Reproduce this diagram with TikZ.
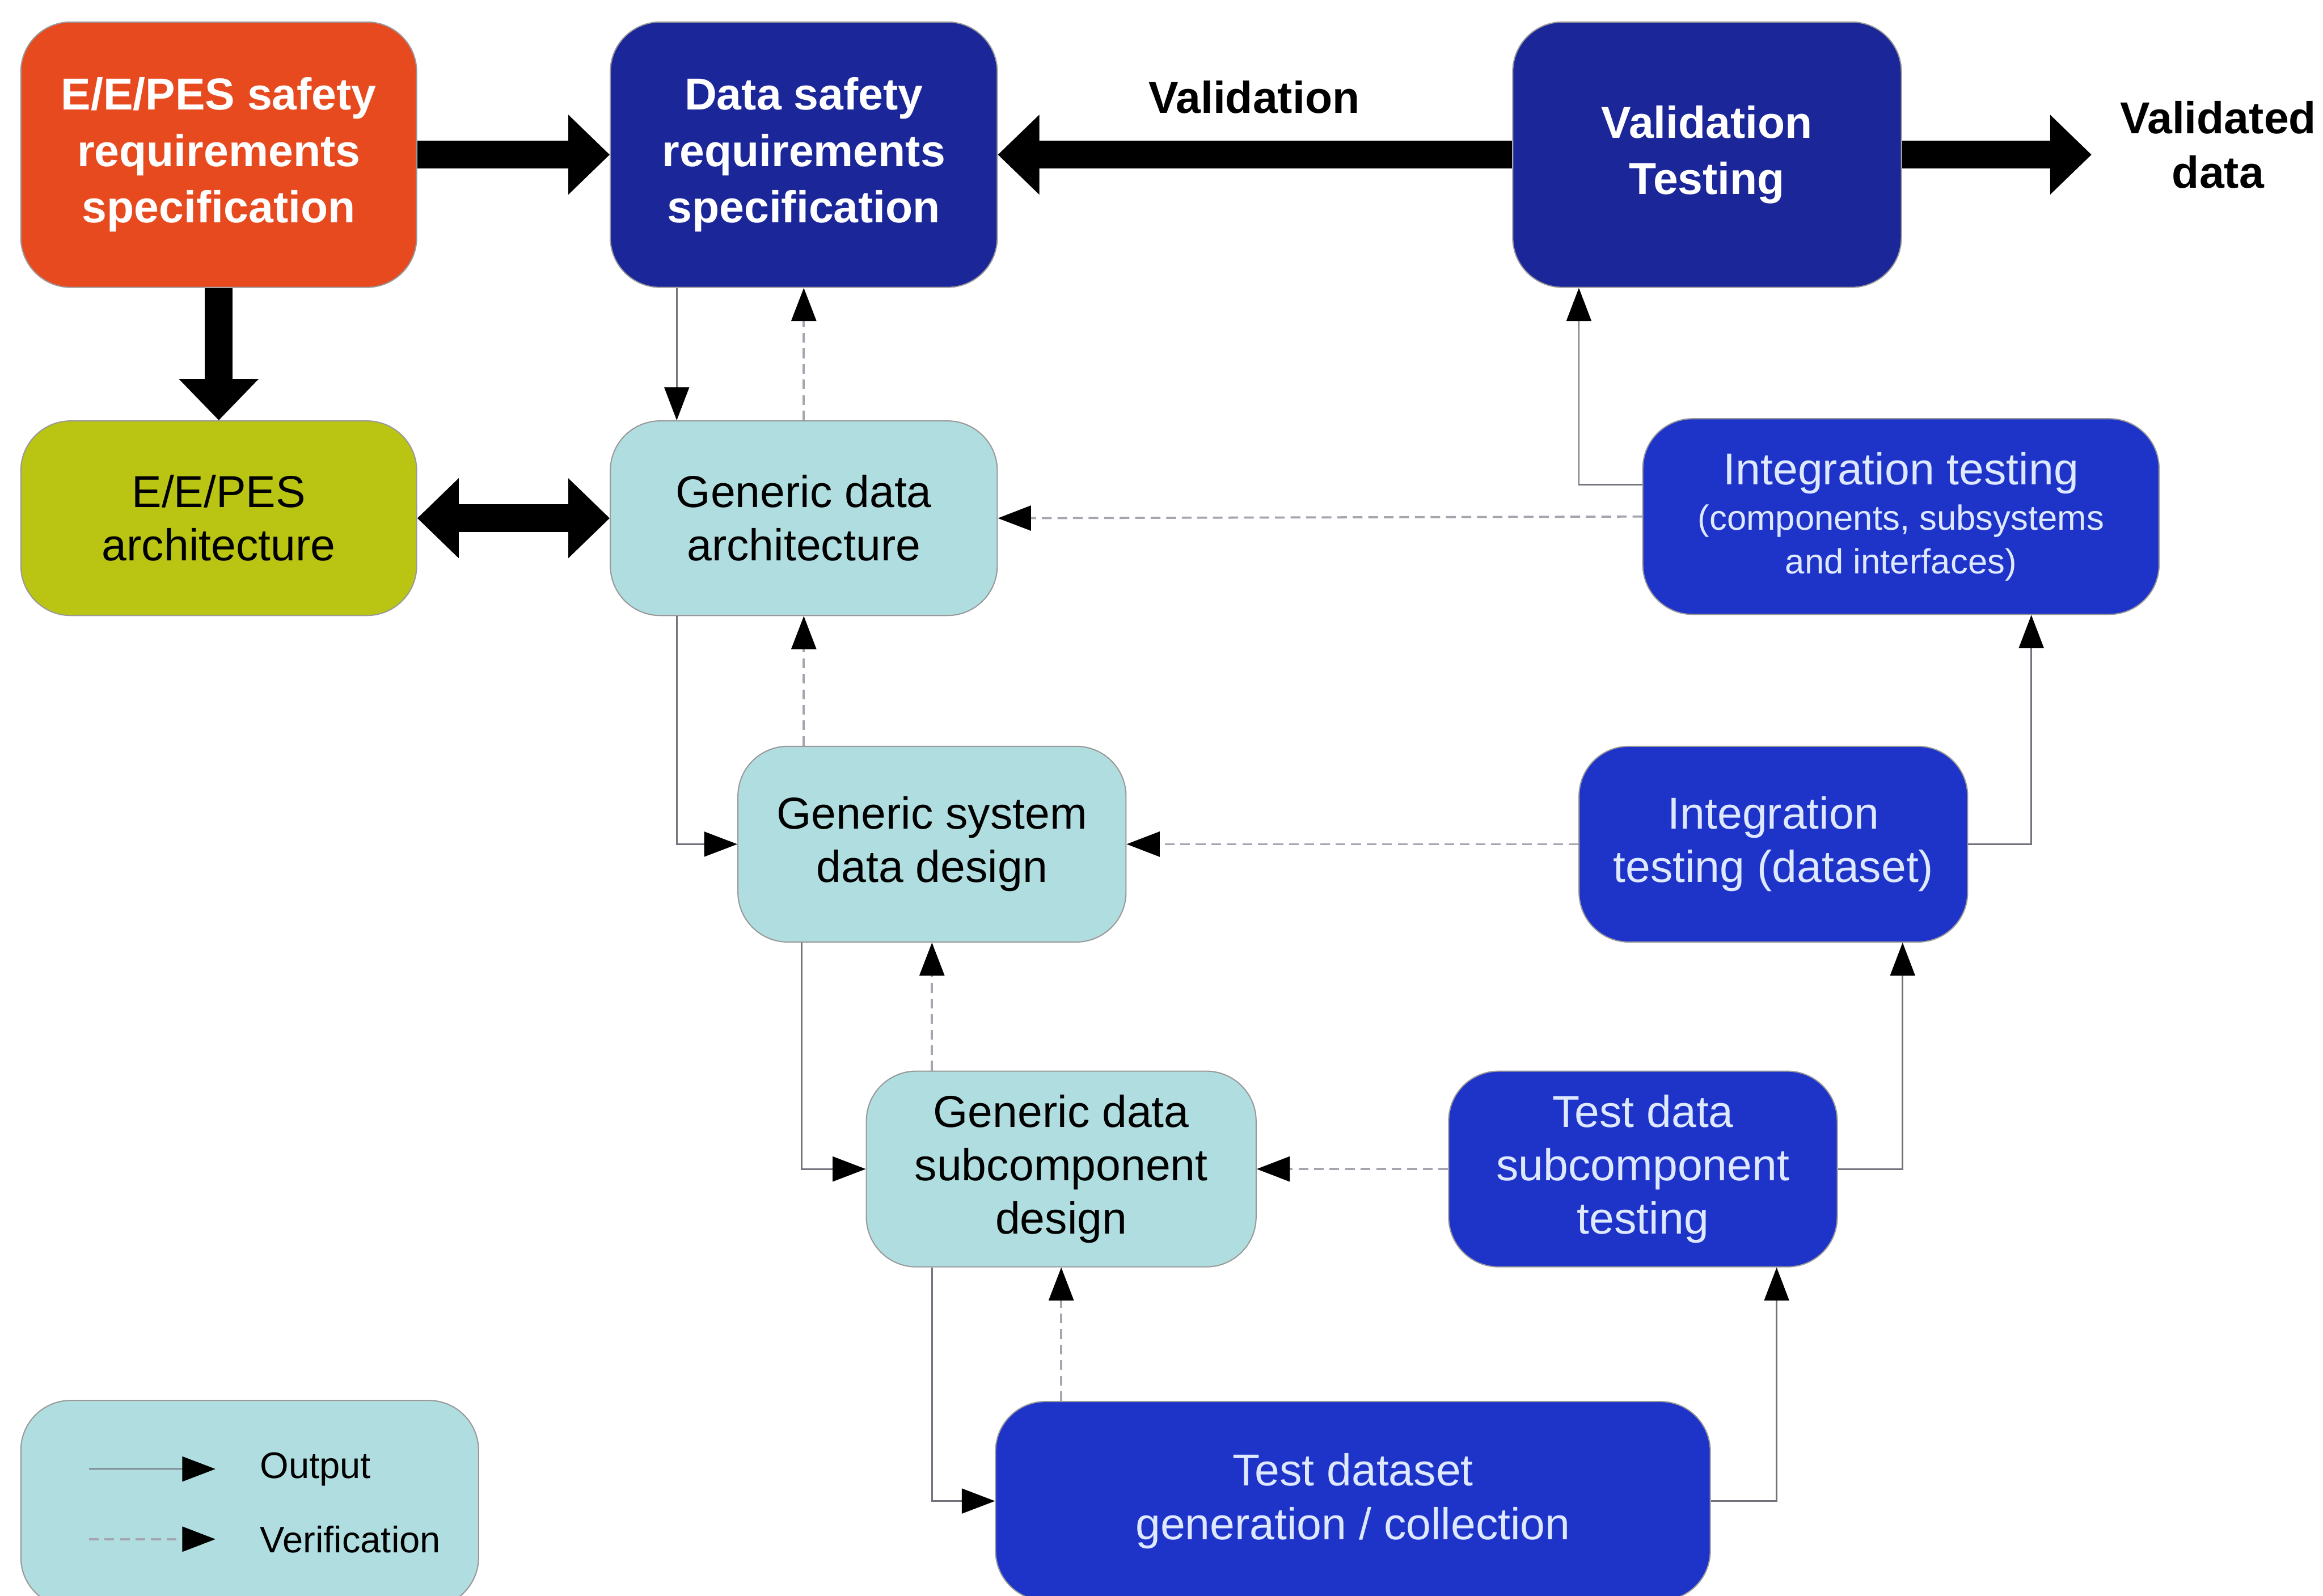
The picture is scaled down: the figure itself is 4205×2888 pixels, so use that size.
\documentclass[tikz,border=0pt]{standalone}
\usepackage{fontspec}
\setmainfont{Liberation Sans}
\usetikzlibrary{arrows.meta,calc}

\definecolor{reqred}{RGB}{232,74,32}
\definecolor{archgreen}{RGB}{186,196,18}
\definecolor{deepblue}{RGB}{27,38,152}
\definecolor{testblue}{RGB}{30,52,200}
\definecolor{datacyan}{RGB}{176,222,224}
\definecolor{testtext}{RGB}{222,232,255}
\definecolor{solidgray}{RGB}{115,115,125}
\definecolor{dashgray}{RGB}{165,165,175}

\newcommand\smallnote{\fontsize{18}{22.5}\selectfont}

\begin{document}
\begin{tikzpicture}[x=0.01cm,y=-0.01cm,
  box/.style={rounded corners=0.9cm, draw=black!40, line width=0.6pt,
              align=center, inner sep=0pt},
  boldtxt/.style={font=\fontsize{23}{29}\selectfont\bfseries},
  plaintxt/.style={font=\fontsize{23}{27.5}\selectfont},
  reqbox/.style={box, boldtxt, text=white, minimum height=4.8cm},
  designbox/.style={box, plaintxt, fill=datacyan, text=black, minimum height=3.54cm},
  testbox/.style={box, plaintxt, fill=testblue, text=testtext, minimum height=3.54cm},
  bigarrow/.style={draw=black, line width=0.5cm, -{Triangle[length=0.75cm,width=1.4cm]}},
  bigboth/.style={draw=black, line width=0.5cm,
                  {Triangle[length=0.75cm,width=1.4cm]}-{Triangle[length=0.75cm,width=1.4cm]}},
  outarrow/.style={draw=solidgray, line width=0.8pt,
                   -{Triangle[length=0.6cm,width=0.45cm,color=black]}},
  verarrow/.style={draw=dashgray, line width=1.1pt, dash pattern=on 5pt off 3pt,
                   -{Triangle[length=0.6cm,width=0.45cm,color=black]}},
]
\useasboundingbox (0,0) rectangle (4205,2888);
\clip (0,0) rectangle (4205,2888);
\fill[white] (0,0) rectangle (4205,2888);

% ---- top row: requirements and validation ----
\node[reqbox, fill=reqred, minimum width=7.16cm] (A) at (396,280)
  {E/E/PES safety\\requirements\\specification};
\node[reqbox, fill=deepblue, minimum width=7.0cm] (B) at (1455,280)
  {Data safety\\requirements\\specification};
\node[reqbox, fill=deepblue, minimum width=7.03cm] (C) at (3090,280)
  {Validation\\Testing};
\node[boldtxt, align=center, inner sep=0pt] (lab) at (2270,176) {Validation};
\node[font=\fontsize{23}{28}\selectfont\bfseries, align=center, inner sep=0pt]
  (vd) at (4015,262) {Validated\\data};
\coordinate (vtip) at (3786,280);

% ---- design side ----
\node[box, plaintxt, fill=archgreen, minimum width=7.16cm, minimum height=3.52cm]
  (D) at (396,938) {E/E/PES\\architecture};
\node[designbox, minimum width=7.0cm, minimum height=3.52cm] (E) at (1455,938)
  {Generic data\\architecture};
\node[designbox, minimum width=7.02cm] (G) at (1687,1528)
  {Generic system\\data design};
\node[designbox, minimum width=7.05cm] (I) at (1921,2116)
  {Generic data\\subcomponent\\design};

% ---- testing side ----
\node[testbox, minimum width=9.34cm] (F) at (3441,935)
  {Integration testing\\[-4pt]\smallnote (components, subsystems\\[-5pt]\smallnote and interfaces)};
\node[testbox, minimum width=7.03cm] (H) at (3210,1528)
  {Integration\\testing (dataset)};
\node[testbox, minimum width=7.03cm] (J) at (2974,2116)
  {Test data\\subcomponent\\testing};
\node[testbox, minimum width=12.93cm, minimum height=3.6cm] (K) at (2449,2717)
  {Test dataset\\generation / collection};

% ---- legend ----
\node[box, fill=datacyan, minimum width=8.28cm, minimum height=3.74cm] (L) at (452,2722) {};
\node[anchor=west, inner sep=0pt, font=\fontsize{19}{23}\selectfont] (lo) at (470,2659) {Output};
\node[anchor=west, inner sep=0pt, font=\fontsize{19}{23}\selectfont] (lv) at (470,2786) {Verification};
\coordinate (lo1) at (161,2659);
\coordinate (lo2) at (390,2659);
\coordinate (lv1) at (161,2786);
\coordinate (lv2) at (390,2786);
\draw[outarrow] (lo1) -- (lo2);
\draw[verarrow] (lv1) -- (lv2);

% ---- helper columns for routed connectors ----
\coordinate (cBE) at (1225,0);
\coordinate (cGI) at (1451,0);
\coordinate (cKJ) at (3216,0);
\coordinate (cJH) at (3444,0);
\coordinate (cHF) at (3677,0);
\coordinate (cFC) at (2858,877);

% ---- thick arrows ----
\draw[bigarrow] (A.east) -- (B.west);
\draw[bigarrow] (A.south) -- (D.north);
\draw[bigboth] (D.east) -- (E.west);
\draw[bigarrow] (C.west) -- (B.east);
\draw[bigarrow] (C.east) -- (vtip);

% ---- outputs (solid) ----
\draw[outarrow] (B.south -| cBE) -- (E.north -| cBE);
\draw[outarrow] (E.south -| cBE) |- (G.west);
\draw[outarrow] (G.south -| cGI) |- (I.west);
\draw[outarrow] (I.south -| G.south) |- (K.west);
\draw[outarrow] (K.east) -| (J.south -| cKJ);
\draw[outarrow] (J.east) -| (H.south -| cJH);
\draw[outarrow] (H.east) -| (F.south -| cHF);
\draw[outarrow] (F.west |- cFC) -| (C.south -| cFC);

% ---- verification (dashed) ----
\draw[verarrow] (E.north) -- (B.south);
\draw[verarrow] (G.north -| E.south) -- (E.south);
\draw[verarrow] (I.north -| G.south) -- (G.south);
\draw[verarrow] (K.north -| I.south) -- (I.south);
\draw[verarrow] (J.west) -- (I.east);
\draw[verarrow] (H.west) -- (G.east);
\draw[verarrow] (F.west) -- (E.east);
\end{tikzpicture}
\end{document}
